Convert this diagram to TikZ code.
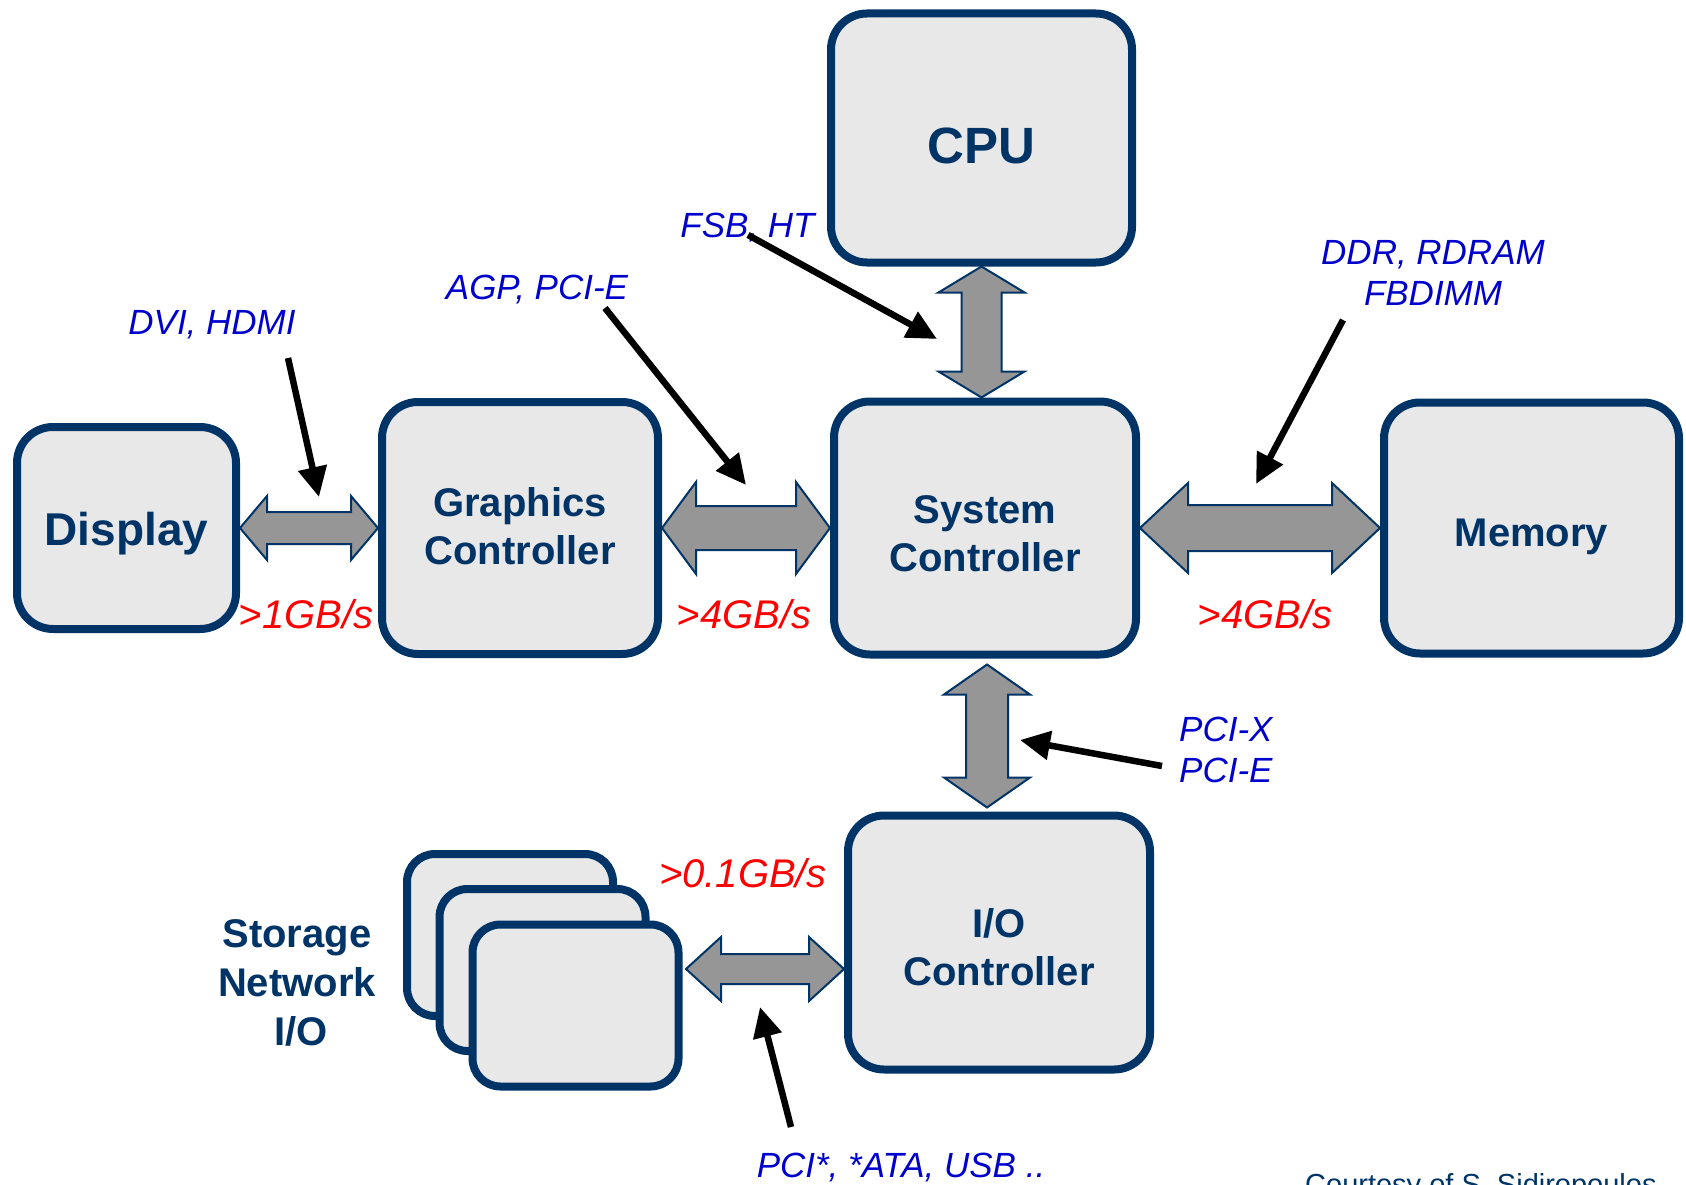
\documentclass[tikz,border=0pt]{standalone}
\usepackage{fontspec}
\setmainfont{Liberation Sans}
\usetikzlibrary{arrows.meta,positioning,calc}
\definecolor{slideNavy}{HTML}{003366}
\definecolor{boxGray}{HTML}{E8E8E8}
\definecolor{busGray}{HTML}{969696}
\definecolor{protoBlue}{HTML}{0000CC}
\definecolor{rateRed}{HTML}{FF0000}

\begin{document}
\begin{tikzpicture}[x=1pt, y=-1pt,
  unitbox/.style={draw=slideNavy, line width=8pt, fill=boxGray, rounded corners=36pt, text=slideNavy, font=\bfseries\fontsize{40}{48}\selectfont, align=center, inner sep=0pt},
  cardbox/.style={unitbox, rounded corners=28pt, minimum width=206pt, minimum height=162pt},
  busarrow/.style={draw=slideNavy, line width=2pt, fill=busGray},
  tagarrow/.style={-{Triangle[length=30pt,width=28pt]}, line width=6.5pt, black},
  protolabel/.style={text=protoBlue, font=\itshape\fontsize{35}{41}\selectfont, align=left, inner sep=0pt},
  ratelabel/.style={text=rateRed, font=\itshape\fontsize{40}{48}\selectfont, inner sep=0pt}]
\useasboundingbox (0,0) rectangle (1686,1185);
\node[unitbox, minimum width=219pt, minimum height=202pt, font=\bfseries\fontsize{46}{54}\selectfont, text height=34pt, text depth=0pt] (disp) at (126.5,528) {Display};
\node[unitbox, minimum width=276pt, minimum height=252pt, right=138pt of disp, text height=72pt, text depth=0pt] (gfx) {Graphics\\Controller};
\node[unitbox, minimum width=302pt, minimum height=253pt, right=168pt of gfx, text height=86pt, text depth=0pt] (sys) {System\\Controller};
\node[unitbox, minimum width=295pt, minimum height=251pt, right=240pt of sys, text height=37pt, text depth=0pt] (mem) {Memory};
\node[unitbox, minimum width=301pt, minimum height=249pt, above=131pt of sys, xshift=-3.5pt, font=\bfseries\fontsize{51}{60}\selectfont, text height=52pt, text depth=0pt] (cpu) {CPU};
\node[unitbox, minimum width=302pt, minimum height=254pt, below=153pt of sys, xshift=14pt, text height=86.5pt, text depth=0pt] (io) {I/O\\Controller};
\node[cardbox] (st1) at (510,935) {};
\node[cardbox] (st2) at (542.5,970) {};
\node[cardbox] (st3) at (575.5,1005.5) {};
\node[text=slideNavy, font=\bfseries\fontsize{40}{49}\selectfont, align=center, inner sep=0pt] (stlabel) at (297,983) {Storage\\Network\\\hspace*{8pt}I/O};

\coordinate (sysTop) at (cpu.south |- sys.north);
\coordinate (busTop) at ($(sys.south)+(2,6)$);
\coordinate (busBot) at ($(busTop |- io.north)+(0,-4)$);
\coordinate (stL) at (686,969);
\coordinate (stR) at (io.west |- stL);
\foreach \a/\b/\hw/\sw/\hl in {disp.east/gfx.west/32/16/27, gfx.east/sys.west/46/22/34, sys.east/mem.west/45/23/48, cpu.south/sysTop/43/20/26, busTop/busBot/43/21/30, stL/stR/32/15/35}{
  \path ($(\a)!\hl pt!(\b)$) coordinate (h1) ($(\b)!\hl pt!(\a)$) coordinate (h2);
  \draw[busarrow] (\a) -- ($(h1)!\hw pt!90:(\b)$) -- ($(h1)!\sw pt!90:(\b)$) -- ($(h2)!\sw pt!-90:(\a)$) -- ($(h2)!\hw pt!-90:(\a)$) -- (\b)
    -- ($(h2)!\hw pt!90:(\a)$) -- ($(h2)!\sw pt!90:(\a)$) -- ($(h1)!\sw pt!-90:(\b)$) -- ($(h1)!\hw pt!-90:(\b)$) -- cycle;
}

\node[protolabel, anchor=base] (dvi) at (212,334) {DVI, HDMI};
\node[protolabel, anchor=base] (agp) at (537,299) {AGP, PCI-E};
\node[protolabel, anchor=base] (fsb) at (747.5,237) {FSB, HT};
\node[protolabel, align=center] (ddr) at (1433,273) {DDR, RDRAM\\FBDIMM};
\node[protolabel, anchor=west] (pcix) at (1179,750) {PCI-X\\PCI-E};
\node[protolabel, anchor=base] (pcis) at (901,1177) {PCI*, *ATA, USB ..};
\node[ratelabel, anchor=base] (r1) at (306,628) {>1GB/s};
\node[ratelabel, anchor=base] (r2) at (744,628) {>4GB/s};
\node[ratelabel, anchor=base] (r3) at (1265,628) {>4GB/s};
\node[ratelabel, anchor=base] (r4) at (743,887) {>0.1GB/s};
\node[text=slideNavy, font=\fontsize{29}{35}\selectfont, anchor=base west, inner sep=0pt] (credit) at (1305,1194) {Courtesy of S. Sidiropoulos};

\coordinate (dviTail) at (288,358);   \coordinate (dviTip) at (319,497);
\coordinate (agpTail) at (605,308);   \coordinate (agpTip) at (746,485);
\coordinate (fsbTail) at (748,235);   \coordinate (fsbTip) at (937,339);
\coordinate (ddrTail) at (1343,320);  \coordinate (ddrTip) at (1256,484);
\coordinate (pcixTail) at (1162,766); \coordinate (pcixTip) at (1020,740);
\coordinate (pcisTail) at (791,1127); \coordinate (pcisTip) at (760,1007);
\foreach \a/\b in {dviTail/dviTip,agpTail/agpTip,fsbTail/fsbTip,ddrTail/ddrTip,pcixTail/pcixTip,pcisTail/pcisTip}
  \draw[tagarrow] (\a)--(\b);
\end{tikzpicture}
\end{document}
